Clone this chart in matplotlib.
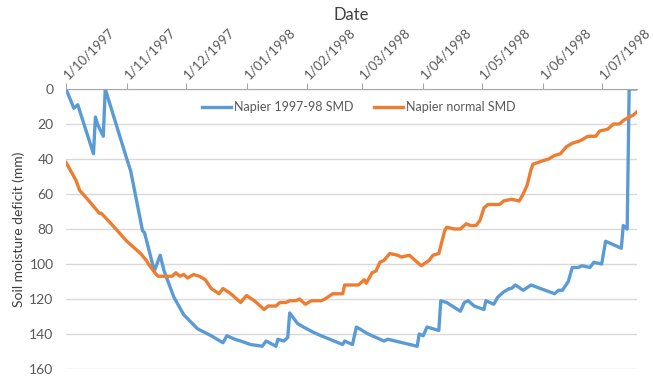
import datetime as dt
import matplotlib
matplotlib.use("Agg")
import matplotlib.pyplot as plt
import matplotlib.transforms as mtransforms

START = dt.date(1997, 10, 1)

# Napier 1997-98 soil moisture deficit (days after 1 Oct 1997, mm)
smd_9798_day = [0, 4, 6, 14, 15, 16, 19, 20, 31, 33, 39, 40, 45, 48, 50, 52, 55, 60, 67,
                74, 80, 82, 86, 89, 94, 100, 102, 107, 108, 111, 113, 114, 118, 121,
                126, 130, 141, 142, 146, 148, 154, 162, 164, 179, 180, 182, 184, 190,
                191, 194, 201, 203, 205, 208, 213, 214, 218, 220, 223, 226, 227, 229,
                233, 237, 249, 251, 253, 256, 258, 261, 263, 267, 269, 273, 275, 283,
                284, 286, 287, 291]
smd_9798 = [0, 11, 9, 37, 16, 20, 27, 0, 40, 47, 81, 82, 104, 95, 104, 110, 119, 129, 137,
            141, 145, 141, 143, 144, 146, 147, 144, 147, 143, 144, 142, 128, 134, 136,
            139, 141, 146, 144, 146, 136, 140, 144, 143, 147, 140, 141, 136, 138,
            121, 122, 127, 122, 121, 124, 126, 121, 123, 119, 116, 114, 114, 112,
            115, 112, 117, 115, 115, 110, 102, 102, 101, 102, 99, 100, 87, 91,
            78, 80, 0, 0]

# Napier long-term normal soil moisture deficit
smd_normal_day = [0, 4, 5, 7, 11, 14, 17, 18, 23, 27, 31, 36, 38, 41, 42, 46, 47, 54, 56,
                  58, 60, 62, 65, 68, 71, 74, 78, 80, 84, 89, 92, 96, 101, 103, 107,
                  109, 112, 114, 117, 119, 122, 125, 130, 132, 136, 137, 141, 142, 146,
                  149, 152, 153, 156, 158, 160, 162, 165, 169, 171, 175, 178, 181, 185,
                  187, 190, 193, 194, 198, 201, 204, 206, 209, 211, 213, 215, 221, 223,
                  227, 231, 233, 235, 237, 238, 243, 246, 249, 252, 255, 258, 261, 263,
                  266, 270, 272, 276, 279, 282, 284, 287, 289, 291]
smd_normal = [42, 50, 52, 58, 63, 67, 71, 71, 77, 82, 87, 92, 94, 98, 100, 106, 107, 107, 105,
              107, 106, 108, 106, 107, 109, 114, 117, 114, 117, 122, 118, 121, 126, 124, 124,
              122, 122, 121, 121, 120, 123, 121, 121, 120, 117, 117, 117, 112, 112,
              112, 109, 111, 105, 104, 99, 98, 94, 95, 96, 95, 98, 101, 98,
              95, 94, 81, 79, 80, 80, 77, 78, 78, 75, 68, 66, 66, 64,
              63, 64, 60, 55, 46, 43, 41, 40, 38, 37, 33, 31, 30, 29,
              27, 27, 24, 23, 20, 20, 18, 16, 15, 13]

month_ticks = [dt.date(1997, m, 1) for m in (10, 11, 12)] + \
              [dt.date(1998, m, 1) for m in range(1, 8)]
month_labels = [f"{d.day}/{d.month:02d}/{d.year}" for d in month_ticks]

plt.rcParams["font.family"] = ["Lato", "DejaVu Sans"]

def to_dates(days):
    return [START + dt.timedelta(days=d) for d in days]

fig = plt.figure(figsize=(6.53, 3.79), dpi=100)
ax = fig.add_axes([66 / 653, 10 / 379, 571 / 653, 280 / 379])

ax.plot(to_dates(smd_9798_day), smd_9798, color="#5B9BD5", lw=2.4,
        label="Napier 1997-98 SMD", solid_joinstyle="round")
ax.plot(to_dates(smd_normal_day), smd_normal, color="#ED7D31", lw=2.4,
        label="Napier normal SMD", solid_joinstyle="round")

ax.set_xlim(START, START + dt.timedelta(days=291))
ax.set_ylim(160, 0)
ax.set_yticks(range(0, 161, 20))
ax.grid(axis="y", color="#D9D9D9", lw=1)
ax.set_axisbelow(True)

ax.xaxis.tick_top()
ax.xaxis.set_label_position("top")
ax.set_xticks(month_ticks)
ax.set_xticklabels(month_labels, rotation=45, ha="left", va="bottom",
                   rotation_mode="anchor")
ax.tick_params(axis="x", direction="out", length=4, color="#A6A6A6", pad=2,
               labelsize=9.5, labelcolor="#595959")
ax.tick_params(axis="y", length=0, pad=9, labelsize=10, labelcolor="#595959")

# nudge the slanted date labels so they start right at their tick
shift = mtransforms.ScaledTranslation(4 / 100, 0, fig.dpi_scale_trans)
for lbl in ax.get_xticklabels():
    lbl.set_transform(lbl.get_transform() + shift)

for side in ("left", "right", "bottom"):
    ax.spines[side].set_visible(False)
ax.spines["top"].set_color("#A6A6A6")

ax.set_xlabel("Date", fontsize=12, color="#404040", labelpad=4)
ax.set_ylabel("Soil moisture deficit (mm)", fontsize=10, color="#404040", labelpad=3)

ax.legend(loc="center", bbox_to_anchor=(0.513, 0.935), ncol=2, frameon=False,
          fontsize=9, labelcolor="#595959", handlelength=2.3, columnspacing=1.7,
          handletextpad=0.2)

fig.savefig("out.png", dpi=100)
